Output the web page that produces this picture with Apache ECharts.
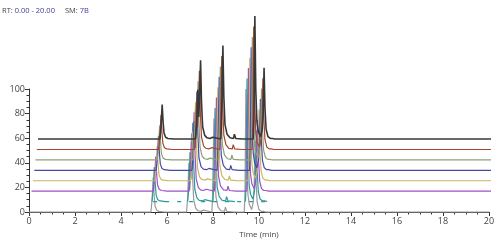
<!DOCTYPE html>
<html><head><meta charset="utf-8">
<script src="https://cdn.jsdelivr.net/npm/echarts@6/dist/echarts.min.js"></script>
<style>html,body{margin:0;padding:0;background:#fff}#c{width:500px;height:242px}</style>
</head><body><div id="c"></div>
<script>
// Base chromatogram (bottom trace): retention time (min) and relative abundance
const baseTime  = [0, 5.30, 5.35, 5.40, 5.44, 5.48, 5.55, 5.65, 5.69, 5.73, 5.90,
  6.85, 6.90, 6.95, 6.99, 7.02, 7.07, 7.11, 7.16, 7.25, 7.35, 7.43, 7.48, 7.59, 7.65, 7.95,
  7.98, 8.04, 8.08, 8.13, 8.22, 8.35, 8.50, 8.54, 8.60, 8.90,
  9.36, 9.39, 9.43, 9.47, 9.52, 9.58, 9.68, 9.75, 9.79, 9.83, 9.87, 9.92, 10.00, 10.10, 10.20, 10.25, 10.30, 20];
const baseValue = [0, 0, 10, 28, 14, 5, 1.5, 0.5, 1.5, 0.3, 0,
  0, 12, 40, 18, 30, 64, 30, 10, 3, 1, 2, 0.5, 1.5, 0.3, 0,
  12, 76, 35, 12, 4, 1, 0.5, 4, 0.5, 0,
  0, 15, 100, 40, 14, 6, 2, 8, 20, 58, 25, 8, 2, 0.5, 0.5, 1.5, 0, 0];
// Stacked traces, bottom to top
const traceNames  = ['T1', 'T2', 'T3', 'T4', 'T5', 'T6', 'T7', 'T8'];
const traceOffset = [0, 8.5, 17, 25.4, 33.9, 42.3, 50.8, 59.3];
const traceShift  = [0, 0.05, 0.11, 0.17, 0.23, 0.28, 0.34, 0.39];
const traceColor  = ['#9a9a9a', '#2a9a9a', '#a050c8', '#c8b864', '#4848aa', '#8ea07a', '#a8442c', '#383838'];
const traceWidth  = [1.2, 1.2, 1.2, 1.2, 1.2, 1.2, 1.2, 1.6];
const dashedTrace = 1;
const dashedRange = [5.35, 10.45];
const xTicks = [0, 20, 2];
const yTicks = [0, 100, 20];

const series = [];
traceNames.forEach((name, k) => {
  let data = [];
  for (let i = 0; i < baseTime.length; i++) {
    const t = baseTime[i] + traceShift[k];
    if (k === dashedTrace) {
      if (baseTime[i] < dashedRange[0] - 0.1 || baseTime[i] > dashedRange[1]) continue;
      if (i > 0 && baseValue[i] === 0 && baseValue[i - 1] === 0) data.push([t, '-']);
    }
    data.push([t, baseValue[i] + traceOffset[k]]);
  }
  series.push({
    name, type: 'line', data, showSymbol: false, clip: false, silent: true,
    lineStyle: { color: traceColor[k], width: traceWidth[k] }, z: 2 + k
  });
  if (k === dashedTrace) {
    series.push({
      name: name + 'b', type: 'line', showSymbol: false, clip: false, silent: true,
      data: dashedRange.map(t => [t + traceShift[k], traceOffset[k]]),
      lineStyle: { color: traceColor[k], width: 1.2, type: [4, 8] }, z: 2 + k
    });
  }
});

const axisCol = '#333';
const chart = echarts.init(document.getElementById('c'), null, { renderer: 'canvas' });
chart.setOption({
  animation: false,
  title: {
    left: 2, top: 2, padding: 0,
    text: '{k|RT: }{v|0.00 - 20.00}  {k|SM: }{v|7B}',
    textStyle: { rich: {
      k: { fontFamily: 'Open Sans', fontSize: 7.5, fontWeight: 'normal', color: '#444' },
      v: { fontFamily: 'Open Sans', fontSize: 7.5, fontWeight: 'normal', color: '#3c3c9c' }
    } }
  },
  grid: { left: 29, right: 11, top: 89, bottom: 30, outerBoundsMode: 'none', containLabel: false },
  xAxis: {
    type: 'value', min: xTicks[0], max: xTicks[1], interval: xTicks[2],
    name: 'Time (min)', nameLocation: 'middle', nameGap: 13,
    nameTextStyle: { fontFamily: 'Open Sans', fontSize: 8, color: '#444' },
    axisLine: { lineStyle: { color: axisCol, width: 1 } },
    axisTick: { length: 4, lineStyle: { color: axisCol } },
    minorTick: { show: true, splitNumber: 4, length: 2.5, lineStyle: { color: axisCol } },
    axisLabel: { fontFamily: 'Open Sans', fontSize: 9, color: '#444', margin: 5 },
    splitLine: { show: false }
  },
  yAxis: {
    type: 'value', min: yTicks[0], max: yTicks[1], interval: yTicks[2],
    name: 'Relative Abundance', nameLocation: 'middle', nameGap: 19,
    nameTextStyle: { fontFamily: 'Open Sans', fontSize: 8, color: '#444' },
    axisLine: { show: true, lineStyle: { color: axisCol, width: 1 } },
    axisTick: { show: true, length: 4, lineStyle: { color: axisCol } },
    minorTick: { show: true, splitNumber: 4, length: 2.5, lineStyle: { color: axisCol } },
    axisLabel: { fontFamily: 'Open Sans', fontSize: 9, color: '#444', margin: 4 },
    splitLine: { show: false }
  },
  series
});
</script></body></html>
